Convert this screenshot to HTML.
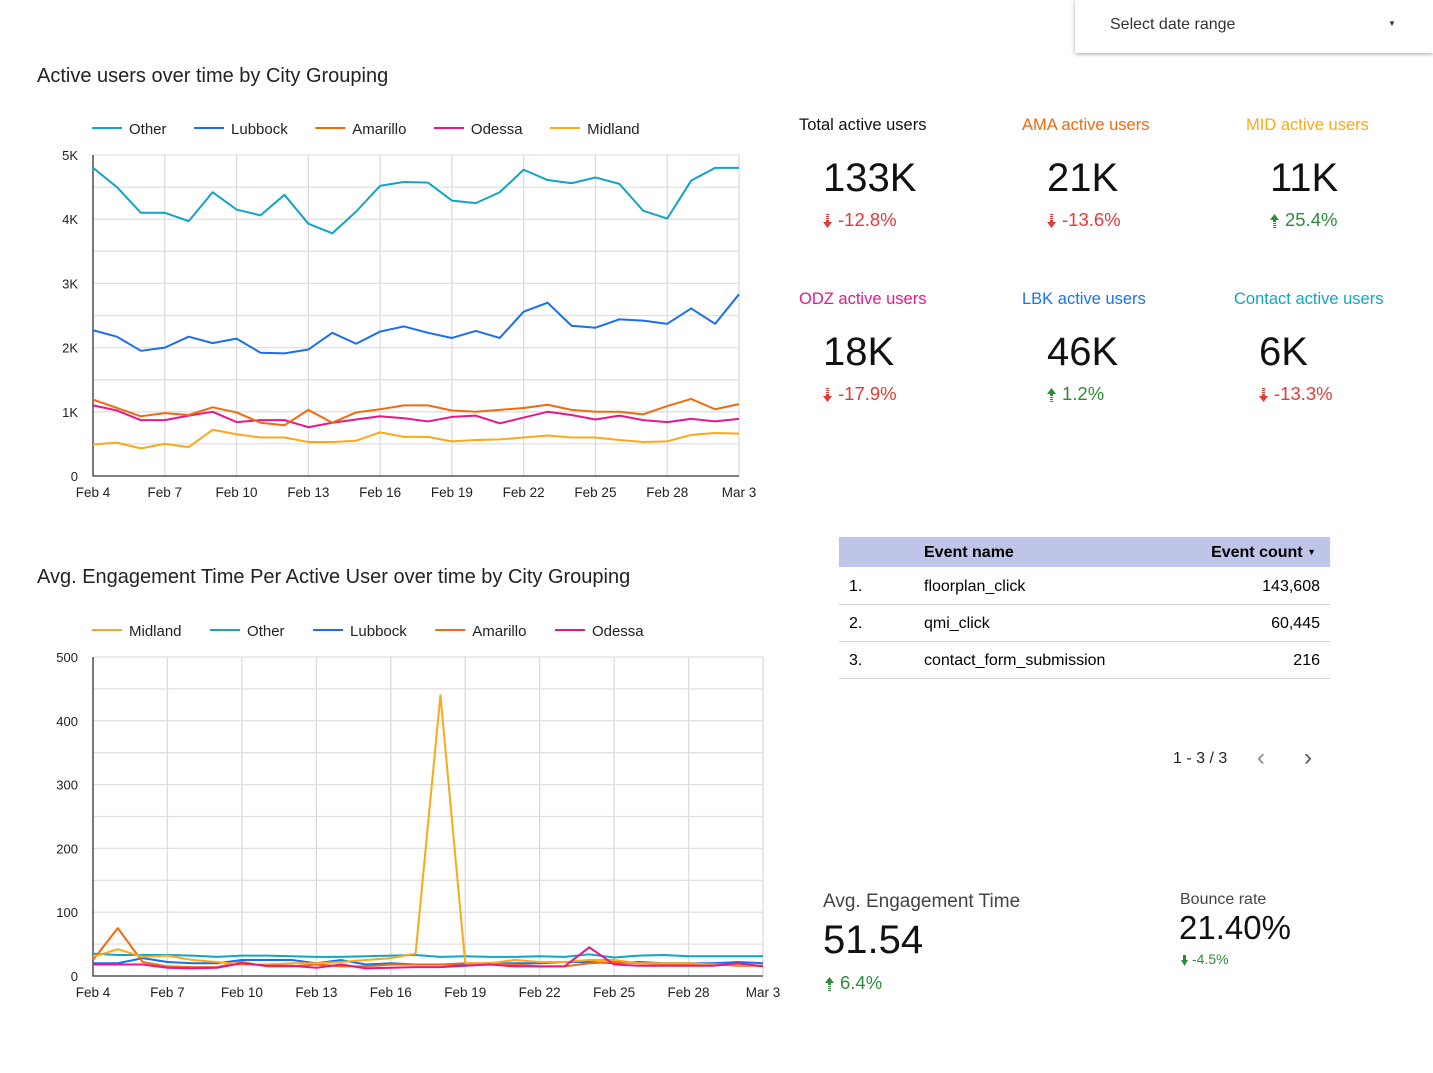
<!DOCTYPE html>
<html><head><meta charset="utf-8">
<style>
body{margin:0;width:1433px;height:1073px;background:#fff;font-family:"Liberation Sans",sans-serif;position:relative;overflow:hidden;color:#000}
.abs{position:absolute;white-space:nowrap}
.ttl{font-size:20px;color:#222}
.kl{font-size:16.5px}
.kv{font-size:40px;color:#111}
.kd{font-size:18.5px}
.red{color:#e53935}.grn{color:#2e8b3a}
.arrow{display:inline-block;vertical-align:middle;margin-right:6px}
.row{position:absolute;left:839px;width:491px;height:37px;border-bottom:1px solid #d0d0d0;font-size:16px}
.row span{position:absolute;top:11px}
</style></head><body>
<div class="abs" style="left:1075px;top:0;width:358px;height:53px;box-shadow:0 1px 4px rgba(0,0,0,.35);background:#fff">
 <span class="abs" style="left:35px;top:16px;font-size:16px;color:#333">Select date range</span>
 <span class="abs" style="left:313px;top:19px;font-size:8px;color:#333">▼</span>
</div>

<div class="abs ttl" style="left:37px;top:65px">Active users over time by City Grouping</div>
<div class="abs ttl" style="left:37px;top:566px">Avg. Engagement Time Per Active User over time by City Grouping</div>

<svg id="c1" class="abs" style="left:0;top:100px" width="790" height="420"></svg>
<svg id="c2" class="abs" style="left:0;top:600px" width="800" height="420"></svg>

<!-- KPIs -->
<div class="abs kl" style="left:799px;top:116px;color:#111">Total active users</div>
<div class="abs kl" style="left:1022px;top:116px;color:#f06a0f">AMA active users</div>
<div class="abs kl" style="left:1246px;top:116px;color:#fba918">MID active users</div>
<div class="abs kv" style="left:823px;top:156px">133K</div>
<div class="abs kv" style="left:1047px;top:156px">21K</div>
<div class="abs kv" style="left:1270px;top:156px">11K</div>
<div class="abs kd red" style="left:823px;top:209px"><svg class="arrow" width="9" height="14"><path d="M3 0h3v1H3zM3 2h3v1H3zM3 4h3v1H3zM3 6h3v2h3L4.5 14 0 8h3z" fill="#e53935"/></svg>-12.8%</div>
<div class="abs kd red" style="left:1047px;top:209px"><svg class="arrow" width="9" height="14"><path d="M3 0h3v1H3zM3 2h3v1H3zM3 4h3v1H3zM3 6h3v2h3L4.5 14 0 8h3z" fill="#e53935"/></svg>-13.6%</div>
<div class="abs kd grn" style="left:1270px;top:209px"><svg class="arrow" width="9" height="14"><path d="M3 14h3v-1H3zM3 12h3v-1H3zM3 10h3V9H3zM3 8h3V6h3L4.5 0 0 6h3z" fill="#2e8b3a"/></svg>25.4%</div>

<div class="abs kl" style="left:799px;top:290px;color:#e8178a">ODZ active users</div>
<div class="abs kl" style="left:1022px;top:290px;color:#1a73e8">LBK active users</div>
<div class="abs kl" style="left:1234px;top:290px;color:#12a4c6">Contact active users</div>
<div class="abs kv" style="left:823px;top:330px">18K</div>
<div class="abs kv" style="left:1047px;top:330px">46K</div>
<div class="abs kv" style="left:1259px;top:330px">6K</div>
<div class="abs kd red" style="left:823px;top:383px"><svg class="arrow" width="9" height="14"><path d="M3 0h3v1H3zM3 2h3v1H3zM3 4h3v1H3zM3 6h3v2h3L4.5 14 0 8h3z" fill="#e53935"/></svg>-17.9%</div>
<div class="abs kd grn" style="left:1047px;top:383px"><svg class="arrow" width="9" height="14"><path d="M3 14h3v-1H3zM3 12h3v-1H3zM3 10h3V9H3zM3 8h3V6h3L4.5 0 0 6h3z" fill="#2e8b3a"/></svg>1.2%</div>
<div class="abs kd red" style="left:1259px;top:383px"><svg class="arrow" width="9" height="14"><path d="M3 0h3v1H3zM3 2h3v1H3zM3 4h3v1H3zM3 6h3v2h3L4.5 14 0 8h3z" fill="#e53935"/></svg>-13.3%</div>

<!-- Table -->
<div class="abs" style="left:839px;top:537px;width:491px;height:30px;background:#bfc5e8;font-size:16px;font-weight:bold">
 <span class="abs" style="left:85px;top:7px">Event name</span>
 <span class="abs" style="right:14px;top:7px">Event count <span style="font-size:9px;vertical-align:2px">▼</span></span>
</div>
<div class="row" style="top:567px"><span style="left:10px">1.</span><span style="left:85px">floorplan_click</span><span style="right:10px">143,608</span></div>
<div class="row" style="top:604px"><span style="left:10px">2.</span><span style="left:85px">qmi_click</span><span style="right:10px">60,445</span></div>
<div class="row" style="top:641px"><span style="left:10px">3.</span><span style="left:85px">contact_form_submission</span><span style="right:10px">216</span></div>
<div class="abs" style="left:1173px;top:750px;font-size:16px;color:#222">1 - 3 / 3</div>
<div class="abs" style="left:1257px;top:744px;font-size:24px;color:#888">‹</div>
<div class="abs" style="left:1304px;top:744px;font-size:24px;color:#555">›</div>

<div class="abs" style="left:823px;top:891px;font-size:19px;color:#444">Avg. Engagement Time</div>
<div class="abs" style="left:823px;top:918px;font-size:40px;color:#111">51.54</div>
<div class="abs kd grn" style="left:825px;top:972px"><svg class="arrow" width="9" height="14"><path d="M3 14h3v-1H3zM3 12h3v-1H3zM3 10h3V9H3zM3 8h3V6h3L4.5 0 0 6h3z" fill="#2e8b3a"/></svg>6.4%</div>
<div class="abs" style="left:1180px;top:891px;font-size:16px;color:#444">Bounce rate</div>
<div class="abs" style="left:1179px;top:909px;font-size:33px;color:#111">21.40%</div>
<div class="abs grn" style="left:1181px;top:951px;font-size:14px"><svg class="arrow" width="7" height="11" style="margin-right:4px"><path d="M2 0h3v5h2L3.5 11 0 5h2z" fill="#2e8b3a"/></svg>-4.5%</div>

<script>
const dates = ["Feb 4","Feb 5","Feb 6","Feb 7","Feb 8","Feb 9","Feb 10","Feb 11","Feb 12","Feb 13","Feb 14","Feb 15","Feb 16","Feb 17","Feb 18","Feb 19","Feb 20","Feb 21","Feb 22","Feb 23","Feb 24","Feb 25","Feb 26","Feb 27","Feb 28","Mar 1","Mar 2","Mar 3"];
const xTickLabels = ["Feb 4","Feb 7","Feb 10","Feb 13","Feb 16","Feb 19","Feb 22","Feb 25","Feb 28","Mar 3"];
const usersOther = [4800,4500,4100,4100,3970,4420,4150,4060,4380,3930,3780,4120,4520,4580,4570,4290,4250,4420,4770,4610,4560,4650,4550,4130,4010,4600,4800,4800];
const usersLubbock = [2270,2170,1950,2000,2170,2070,2140,1920,1910,1970,2230,2060,2250,2330,2230,2150,2260,2150,2560,2700,2340,2310,2440,2420,2370,2610,2370,2830];
const usersAmarillo = [1190,1060,930,980,950,1070,990,830,790,1030,830,990,1040,1100,1100,1020,1000,1030,1060,1110,1030,1000,1000,960,1090,1200,1040,1120];
const usersOdessa = [1100,1020,870,870,940,1000,840,870,870,760,830,880,930,900,850,920,940,820,910,1000,950,880,940,870,840,890,850,890];
const usersMidland = [490,520,430,500,450,720,650,600,600,530,530,550,680,610,610,540,560,570,600,630,600,600,560,530,540,640,670,660];
const yTicks1 = [0,1000,2000,3000,4000,5000];
const yTickLabels1 = ["0","1K","2K","3K","4K","5K"];

const engMidland = [30,42,30,32,25,22,18,18,20,20,22,25,28,35,440,20,20,25,22,22,25,25,20,20,20,18,18,16];
const engAmarillo = [25,75,22,15,14,14,22,15,15,18,15,15,18,18,18,20,20,18,15,15,20,22,20,18,18,18,16,16];
const engOther = [35,33,33,33,32,30,32,32,31,30,30,31,32,33,30,31,30,30,31,30,34,29,32,33,31,31,31,31];
const engLubbock = [20,20,28,22,20,20,25,25,25,20,25,18,20,18,18,18,20,20,20,22,22,20,22,20,20,20,22,20];
const engOdessa = [18,18,18,13,12,13,20,16,16,13,18,12,13,14,14,16,18,15,15,15,45,18,16,16,16,16,20,15];
const yTicks2 = [0,100,200,300,400,500];

const C={Other:"#12a4c6",Lubbock:"#1a6ff0",Amarillo:"#f06a0f",Odessa:"#e8178a",Midland:"#fba918"};
const NS="http://www.w3.org/2000/svg";
function mk(svg,tag,attrs){const e=document.createElementNS(NS,tag);for(const k in attrs)e.setAttribute(k,attrs[k]);svg.appendChild(e);return e;}

function chart(id,cfg){
  const svg=document.getElementById(id);
  const {x0,x1,yb,yt,ymax,ticks,tickLabels,gridStep,series,legendY,legend,gap}=cfg;
  const xs=i=>x0+(x1-x0)*i/(dates.length-1);
  const ys=v=>yb-(yb-yt)*v/ymax;
  for(let v=gridStep;v<=ymax;v+=gridStep){
    const g=mk(svg,"line",{x1:x0,x2:x1,y1:ys(v),y2:ys(v),stroke:"#e0e0e0","stroke-width":1.3});
    
    
  }
  ticks.forEach((v,i)=>{
    const t=mk(svg,"text",{x:78,y:ys(v)+5,"text-anchor":"end","font-size":13,fill:"#222","font-family":"Liberation Sans"});
    t.textContent=tickLabels[i];
    
    
  });
  dates.forEach((d,i)=>{
    if(!xTickLabels.includes(d))return;
    if(i>0){const g=mk(svg,"line",{x1:xs(i),x2:xs(i),y1:yt,y2:yb,stroke:"#dcdcdc","stroke-width":1.3});
      
      }
    const t=mk(svg,"text",{x:xs(i),y:yb+21,"text-anchor":"middle","font-size":13.5,fill:"#222","font-family":"Liberation Sans"});
    t.textContent=d;
    
    
  });
  const ax=mk(svg,"path",{d:`M${x0} ${yt}V${yb}H${x1}`,stroke:"#333",fill:"none","stroke-width":1.3});
  
  
  series.forEach(([name,vals])=>{
    const p=mk(svg,"polyline",{points:vals.map((v,i)=>xs(i)+","+ys(v)).join(" "),fill:"none",stroke:C[name],"stroke-width":2,"stroke-linejoin":"round"});
    
    
  });
  let lx=92;
  legend.forEach(name=>{
    const l=mk(svg,"line",{x1:lx,x2:lx+30,y1:legendY,y2:legendY,stroke:C[name],"stroke-width":2});
    
    
    const t=mk(svg,"text",{x:lx+37,y:legendY+6,"font-size":15,fill:"#222","font-family":"Liberation Sans"});
    t.textContent=name;
    
    
    lx+=37+t.getComputedTextLength()+gap;
  });
}
chart("c1",{x0:93,x1:739,yb:376,yt:55,ymax:5000,ticks:yTicks1,tickLabels:yTickLabels1,gridStep:500,legendY:28,gap:27.5,
  series:[["Midland",usersMidland],["Odessa",usersOdessa],["Amarillo",usersAmarillo],["Lubbock",usersLubbock],["Other",usersOther]],
  legend:["Other","Lubbock","Amarillo","Odessa","Midland"]});
chart("c2",{x0:93,x1:763,yb:376,yt:57,ymax:500,ticks:yTicks2,tickLabels:yTicks2.map(String),gridStep:50,legendY:30,gap:28.5,
  series:[["Other",engOther],["Lubbock",engLubbock],["Amarillo",engAmarillo],["Midland",engMidland],["Odessa",engOdessa]],
  legend:["Midland","Other","Lubbock","Amarillo","Odessa"]});
</script>
</body></html>
